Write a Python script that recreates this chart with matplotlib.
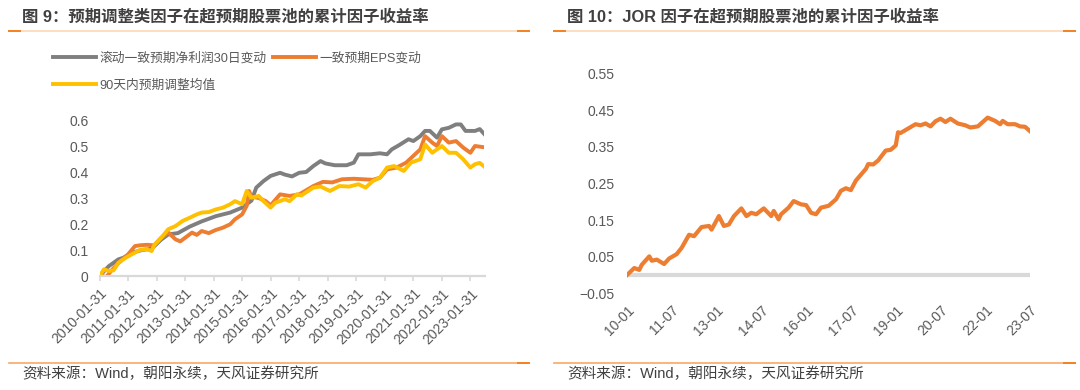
import matplotlib.pyplot as plt
import matplotlib.dates as mdates
from matplotlib.lines import Line2D
from matplotlib.ticker import FuncFormatter
import pandas as pd

plt.rcParams['font.family'] = ['Liberation Sans', 'Noto Sans CJK SC']

# ---- 图9: 三个预期调整类因子 (月份, 累计因子收益) ----
gray_name = "滚动一致预期净利润30日变动"
gray_dates = ["2010-01", "2010-05", "2010-09", "2010-11", "2011-03", "2011-07", "2011-11",
              "2012-03", "2012-06", "2012-10", "2013-03", "2013-08", "2014-02", "2014-08",
              "2015-01", "2015-05", "2015-07", "2015-10", "2016-01", "2016-05", "2016-07",
              "2016-10", "2017-01", "2017-04", "2017-07", "2017-10", "2017-12", "2018-04",
              "2018-09", "2018-12", "2019-02", "2019-07", "2019-11", "2020-02", "2020-04",
              "2020-07", "2020-11", "2021-01", "2021-04", "2021-06", "2021-08", "2021-11",
              "2022-01", "2022-04", "2022-07", "2022-09", "2022-11", "2023-03", "2023-05",
              "2023-07"]
gray_vals = [0.0, 0.038, 0.064, 0.07, 0.09, 0.10, 0.105,
             0.14, 0.16, 0.165, 0.19, 0.21, 0.23, 0.244,
             0.263, 0.29, 0.34, 0.365, 0.385, 0.397, 0.39,
             0.383, 0.397, 0.40, 0.423, 0.442, 0.433, 0.426,
             0.426, 0.436, 0.468, 0.468, 0.472, 0.468, 0.487,
             0.503, 0.526, 0.519, 0.538, 0.558, 0.558, 0.532,
             0.564, 0.57, 0.583, 0.583, 0.558, 0.558, 0.565,
             0.545]

orange_name = "一致预期EPS变动"
orange_dates = ["2010-01", "2010-04", "2010-06", "2010-09", "2011-01", "2011-04", "2011-06",
                "2011-09", "2011-12", "2012-03", "2012-06", "2012-09", "2012-11", "2013-01",
                "2013-04", "2013-06", "2013-08", "2013-11", "2014-02", "2014-05", "2014-08",
                "2014-10", "2015-01", "2015-03", "2015-04", "2015-05", "2015-08", "2015-11",
                "2016-01", "2016-05", "2016-09", "2017-01", "2017-07", "2017-11", "2018-03",
                "2018-07", "2018-12", "2019-04", "2019-08", "2019-11", "2020-02", "2020-06",
                "2020-10", "2021-01", "2021-04", "2021-06", "2021-09", "2021-11", "2022-01",
                "2022-04", "2022-07", "2022-10", "2023-01", "2023-03", "2023-07"]
orange_vals = [0.0, -0.003, 0.02, 0.05, 0.083, 0.115, 0.118,
               0.12, 0.118, 0.147, 0.167, 0.141, 0.133, 0.147,
               0.167, 0.158, 0.173, 0.165, 0.177, 0.186, 0.199,
               0.218, 0.237, 0.27, 0.327, 0.305, 0.30, 0.288,
               0.272, 0.314, 0.308, 0.314, 0.346, 0.362, 0.36,
               0.372, 0.374, 0.372, 0.37, 0.378, 0.41, 0.417,
               0.436, 0.462, 0.487, 0.538, 0.513, 0.50, 0.538,
               0.513, 0.519, 0.494, 0.474, 0.50, 0.495]

yellow_name = "90天内预期调整均值"
yellow_dates = ["2010-01", "2010-03", "2010-05", "2010-07", "2010-09", "2010-12", "2011-04",
                "2011-06", "2011-09", "2011-11", "2011-12", "2012-03", "2012-06", "2012-09",
                "2012-12", "2013-03", "2013-06", "2013-08", "2013-11", "2014-02", "2014-05",
                "2014-08", "2014-10", "2015-01", "2015-03", "2015-05", "2015-08", "2015-10",
                "2016-01", "2016-03", "2016-07", "2016-09", "2016-12", "2017-02", "2017-07",
                "2017-10", "2018-02", "2018-06", "2018-10", "2019-02", "2019-05", "2019-08",
                "2019-11", "2020-02", "2020-05", "2020-09", "2020-12", "2021-04", "2021-06",
                "2021-09", "2022-01", "2022-04", "2022-07", "2022-10", "2023-01", "2023-03",
                "2023-05", "2023-07"]
yellow_vals = [0.0, 0.026, 0.019, 0.022, 0.051, 0.07, 0.09,
               0.10, 0.103, 0.096, 0.118, 0.147, 0.18, 0.192,
               0.212, 0.224, 0.237, 0.244, 0.246, 0.256, 0.263,
               0.276, 0.288, 0.276, 0.327, 0.301, 0.308, 0.288,
               0.263, 0.282, 0.295, 0.288, 0.314, 0.31, 0.34,
               0.344, 0.327, 0.346, 0.344, 0.353, 0.34, 0.365,
               0.378, 0.417, 0.423, 0.404, 0.436, 0.449, 0.506,
               0.474, 0.50, 0.474, 0.474, 0.449, 0.417, 0.43,
               0.435, 0.42]

# ---- 图10: JOR 因子 ----
jor_dates = ["2010-01", "2010-04", "2010-06", "2010-07", "2010-10", "2010-11", "2011-01",
             "2011-04", "2011-06", "2011-09", "2011-11", "2012-02", "2012-04", "2012-07",
             "2012-10", "2012-11", "2013-02", "2013-04", "2013-06", "2013-08", "2013-11",
             "2014-01", "2014-03", "2014-05", "2014-08", "2014-11", "2014-12", "2015-02",
             "2015-03", "2015-06", "2015-08", "2015-11", "2016-01", "2016-03", "2016-05",
             "2016-07", "2016-10", "2017-01", "2017-03", "2017-05", "2017-07", "2017-09",
             "2018-01", "2018-02", "2018-04", "2018-06", "2018-09", "2018-11", "2019-01",
             "2019-02", "2019-03", "2019-06", "2019-09", "2019-11", "2020-01", "2020-03",
             "2020-05", "2020-07", "2020-09", "2020-11", "2021-02", "2021-05", "2021-07",
             "2021-10", "2022-02", "2022-05", "2022-07", "2022-08", "2022-10", "2023-01",
             "2023-03", "2023-05", "2023-07"]
jor_vals = [0.0, 0.019, 0.014, 0.028, 0.051, 0.039, 0.042,
            0.030, 0.045, 0.057, 0.074, 0.110, 0.106, 0.131,
            0.134, 0.124, 0.161, 0.134, 0.138, 0.161, 0.182,
            0.161, 0.170, 0.166, 0.182, 0.161, 0.175, 0.152,
            0.166, 0.184, 0.202, 0.193, 0.191, 0.170, 0.166,
            0.184, 0.189, 0.207, 0.230, 0.237, 0.232, 0.258,
            0.290, 0.303, 0.302, 0.313, 0.340, 0.342, 0.354,
            0.390, 0.388, 0.400, 0.412, 0.409, 0.414, 0.406,
            0.420, 0.427, 0.418, 0.427, 0.414, 0.409, 0.403,
            0.406, 0.430, 0.421, 0.412, 0.421, 0.412, 0.412,
            0.406, 0.405, 0.393]

left_ticks = ["2010-01", "2011-01", "2012-01", "2013-01", "2014-01", "2015-01", "2016-01",
              "2017-01", "2018-01", "2019-01", "2020-01", "2021-01", "2022-01", "2023-01"]
right_ticks = ["2010-01", "2011-07", "2013-01", "2014-07", "2016-01", "2017-07", "2019-01",
               "2020-07", "2022-01", "2023-07"]

title_left = "图 9：预期调整类因子在超预期股票池的累计因子收益率"
title_right = "图 10：JOR 因子在超预期股票池的累计因子收益率"
source = "资料来源：Wind，朝阳永续，天风证券研究所"


def month_end(lst):
    return pd.to_datetime(lst) + pd.offsets.MonthEnd(0)


W, H = 1080, 390
fig = plt.figure(figsize=(W / 100, H / 100), dpi=100)

tick_color = "#595959"
text_color = "#404040"
c_gray, c_orange, c_yellow = "#7F7F7F", "#ED7D31", "#FFC000"
x0, x1 = pd.Timestamp("2010-01-31"), pd.Timestamp("2023-07-31")

# ---------------- left chart ----------------
ax1 = fig.add_axes([99.5 / W, 1 - 276 / H, 385 / W, 0.62 * 260 / H])
l1, = ax1.plot(month_end(gray_dates), gray_vals, color=c_gray, lw=2.8, label=gray_name)
l2, = ax1.plot(month_end(orange_dates), orange_vals, color=c_orange, lw=2.8, label=orange_name)
l3, = ax1.plot(month_end(yellow_dates), yellow_vals, color=c_yellow, lw=2.8, label=yellow_name)
ax1.set_xlim(x0, x1)
ax1.set_ylim(0, 0.62)
ax1.set_yticks([0, 0.1, 0.2, 0.3, 0.4, 0.5, 0.6])
ax1.yaxis.set_major_formatter(FuncFormatter(lambda v, p: f"{v:g}"))
ax1.set_xticks(month_end(left_ticks))
ax1.xaxis.set_major_formatter(mdates.DateFormatter("%Y-%m-%d"))
for s in ["top", "right", "left"]:
    ax1.spines[s].set_visible(False)
ax1.spines["bottom"].set_color("#D9D9D9")
ax1.spines["bottom"].set_linewidth(1.6)
ax1.tick_params(axis="y", length=0, pad=8, labelsize=10, labelcolor=tick_color)
ax1.tick_params(axis="x", length=3.5, width=1.2, color="#D9D9D9", pad=4,
                labelsize=10, labelcolor=tick_color)
for lab in ax1.get_xticklabels():
    lab.set_rotation(45)
    lab.set_ha("right")
    lab.set_va("top")
    lab.set_rotation_mode("anchor")

fig.legend([l1, l3, l2], [gray_name, yellow_name, orange_name], ncol=2,
           loc="upper left", bbox_to_anchor=(53 / W, 1 - 52 / H), frameon=False,
           fontsize=9.2, labelcolor=tick_color, handlelength=3.4, handletextpad=0.25,
           columnspacing=0.45, labelspacing=1.15, borderpad=0, borderaxespad=0)

# ---------------- right chart ----------------
ax2 = fig.add_axes([627 / W, 1 - 293.3 / H, 403 / W, 0.6 * 366 / H])
ax2.axhline(0, color="#D9D9D9", lw=3, zorder=1)
ax2.plot(month_end(jor_dates), jor_vals, color=c_orange, lw=3, zorder=2)
ax2.set_xlim(x0, x1)
ax2.set_ylim(-0.05, 0.55)
ax2.set_yticks([-0.05, 0.05, 0.15, 0.25, 0.35, 0.45, 0.55])
ax2.yaxis.set_major_formatter(FuncFormatter(lambda v, p: f"{v:.2f}".replace("-", "\u2212")))
ax2.set_xticks(month_end(right_ticks))
ax2.xaxis.set_major_formatter(mdates.DateFormatter("%y-%m"))
for s in ax2.spines.values():
    s.set_visible(False)
ax2.tick_params(axis="y", length=0, pad=9, labelsize=10, labelcolor=tick_color)
ax2.tick_params(axis="x", length=0, pad=7, labelsize=10, labelcolor=tick_color)
for lab in ax2.get_xticklabels():
    lab.set_rotation(45)
    lab.set_ha("right")
    lab.set_va("top")
    lab.set_rotation_mode("anchor")

# ---------------- titles, rules, source ----------------
fig.text(22 / W, 1 - 17 / H, title_left, fontsize=11.8, fontweight="bold",
         color=text_color, va="center", ha="left")
fig.text(567 / W, 1 - 17 / H, title_right, fontsize=11.8, fontweight="bold",
         color=text_color, va="center", ha="left")
for sx, ex in [(9, 529), (554, 1075)]:
    y_top = 1 - 31 / H
    y_bot = 1 - 363 / H
    fig.add_artist(Line2D([sx / W, ex / W], [y_top, y_top], color="#FCD9B8", lw=1.2))
    fig.add_artist(Line2D([sx / W, (sx + 11) / W], [y_top, y_top], color="#F58220", lw=1.4))
    fig.add_artist(Line2D([(ex - 11) / W, ex / W], [y_top, y_top], color="#F58220", lw=1.4))
    fig.add_artist(Line2D([sx / W, ex / W], [y_bot, y_bot], color="#F9A862", lw=1.2))
    fig.add_artist(Line2D([(ex - 11) / W, ex / W], [y_bot, y_bot], color="#F58220", lw=1.4))
fig.text(22 / W, 1 - 374 / H, source, fontsize=10.5, color=text_color, va="center", ha="left")
fig.text(567 / W, 1 - 374 / H, source, fontsize=10.5, color=text_color, va="center", ha="left")

fig.savefig("out.png", dpi=100)
